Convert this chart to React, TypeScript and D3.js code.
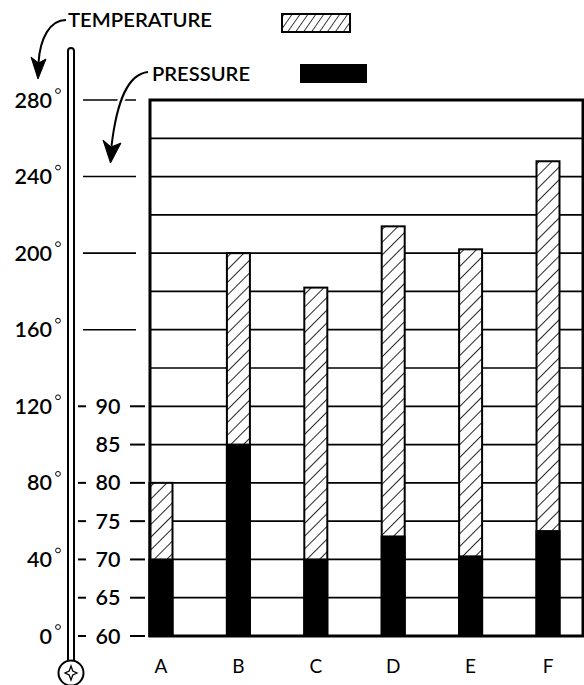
import React from 'react';
import * as d3 from 'd3';

const categories = ['A', 'B', 'C', 'D', 'E', 'F'];
const temperature = [80, 200, 182, 214, 202, 248];
const pressure = [70, 85, 70, 73, 70.4, 73.7];
const tempTicks = [0, 40, 80, 120, 160, 200, 240, 280];
const tempLineTicks = [160, 200, 240, 280];
const pressureTicks = [60, 65, 70, 75, 80, 85, 90];
const pressureLeftDash = [60, 65, 70, 75, 80, 90];
const gridTemps = [20, 40, 60, 80, 100, 120, 140, 160, 180, 200, 220, 240, 260];

const FONT = "Lato, 'DejaVu Sans', sans-serif";

export default function App() {
  const y = d3.scaleLinear().domain([0, 280]).range([636, 100]);
  const yp = d3.scaleLinear().domain([60, 130]).range([636, 100]);
  const x = d3.scalePoint<string>().domain(categories).range([161, 548]);
  const barW = 23;
  const left = 150;
  const right = 583;

  return (
    <svg width={584} height={685} style={{ position: 'absolute', left: 0, top: 0, display: 'block', background: '#fff' }}
      fontFamily={FONT} fontWeight={600}>
      <defs>
        <pattern id="hatch" patternUnits="userSpaceOnUse" width={9} height={9} patternTransform="rotate(45)">
          <rect width={9} height={9} fill="#fff" />
          <line x1={0} y1={0} x2={0} y2={9} stroke="#000" strokeWidth={1.7} />
        </pattern>
        <pattern id="hatchLegend" patternUnits="userSpaceOnUse" width={6.5} height={6.5} patternTransform="rotate(35)">
          <rect width={6.5} height={6.5} fill="#fff" />
          <line x1={0} y1={0} x2={0} y2={6.5} stroke="#000" strokeWidth={1.5} />
        </pattern>
      </defs>
      <rect x={0} y={0} width={584} height={685} fill="#fff" />

      {/* grid */}
      {gridTemps.map((t) => (
        <line key={t} x1={left} x2={right} y1={y(t)} y2={y(t)} stroke="#000" strokeWidth={1.7} />
      ))}

      {/* bars */}
      {categories.map((c, i) => (
        <g key={c}>
          <rect x={(x(c) as number) - barW / 2} y={y(temperature[i])} width={barW}
            height={y(0) - y(temperature[i])} fill="url(#hatch)" stroke="#000" strokeWidth={2} />
          <rect x={(x(c) as number) - barW / 2} y={yp(pressure[i])} width={barW}
            height={yp(60) - yp(pressure[i])} fill="#000" stroke="#000" strokeWidth={2} />
        </g>
      ))}

      {/* frame */}
      <rect x={left} y={y(280)} width={right - left} height={y(0) - y(280)} fill="none" stroke="#000" strokeWidth={3} />

      {/* category labels */}
      {categories.map((c) => (
        <text key={c} x={x(c)} y={673} textAnchor="middle" fontSize={19} fontWeight={400}>{c}</text>
      ))}

      {/* temperature axis */}
      {tempTicks.map((t) => (
        <g key={t}>
          <text x={52} y={y(t) + 7.5} textAnchor="end" fontSize={21.5}>{t}</text>
          <circle cx={58} cy={y(t) - 9} r={2.4} fill="none" stroke="#000" strokeWidth={1} />
        </g>
      ))}
      {tempLineTicks.map((t) => (
        <line key={t} x1={83} x2={136} y1={y(t)} y2={y(t)} stroke="#000" strokeWidth={1.6} />
      ))}

      {/* pressure axis */}
      {pressureTicks.map((p) => (
        <g key={p}>
          <text x={108} y={yp(p) + 7.5} textAnchor="middle" fontSize={21.5}>{p}</text>
          <line x1={130} x2={145} y1={yp(p)} y2={yp(p)} stroke="#000" strokeWidth={2} />
        </g>
      ))}
      {pressureLeftDash.map((p) => (
        <line key={p} x1={78} x2={86} y1={yp(p)} y2={yp(p)} stroke="#000" strokeWidth={2} />
      ))}

      {/* thermometer */}
      <path d="M68,661 L68,51 A3,3 0 0 1 74,51 L74,661" fill="none" stroke="#000" strokeWidth={2} />
      <circle cx={71} cy={673} r={12.5} fill="#fff" stroke="#000" strokeWidth={2} />
      <path d="M71,666 L72.8,671 L77,673 L72.8,675 L71,680 L69.2,675 L65,673 L69.2,671 Z" fill="none" stroke="#000" strokeWidth={1.3} />

      {/* legend: temperature */}
      <path d="M66,20 C50,20 40,38 38.5,63" fill="none" stroke="#000" strokeWidth={2} />
      <path d="M38,79 L31,57 L38.5,63 L46,59 Z" fill="#000" stroke="#000" strokeWidth={1} />
      <text x={68} y={27} fontSize={20} textLength={144} lengthAdjust="spacingAndGlyphs">TEMPERATURE</text>
      <rect x={282} y={14} width={68} height={18} fill="url(#hatchLegend)" stroke="#000" strokeWidth={2} />

      {/* legend: pressure */}
      <path d="M148,72 C128,74 117,100 111.5,146" fill="none" stroke="#fff" strokeWidth={7} />
      <path d="M148,72 C128,74 117,100 111.5,146" fill="none" stroke="#000" strokeWidth={2} />
      <path d="M110.5,163 L103,140 L111,147 L121,143 Z" fill="#000" stroke="#000" strokeWidth={1} />
      <text x={152} y={81} fontSize={20} textLength={98} lengthAdjust="spacingAndGlyphs">PRESSURE</text>
      <rect x={300} y={64} width={67} height={19} fill="#000" />
    </svg>
  );
}
